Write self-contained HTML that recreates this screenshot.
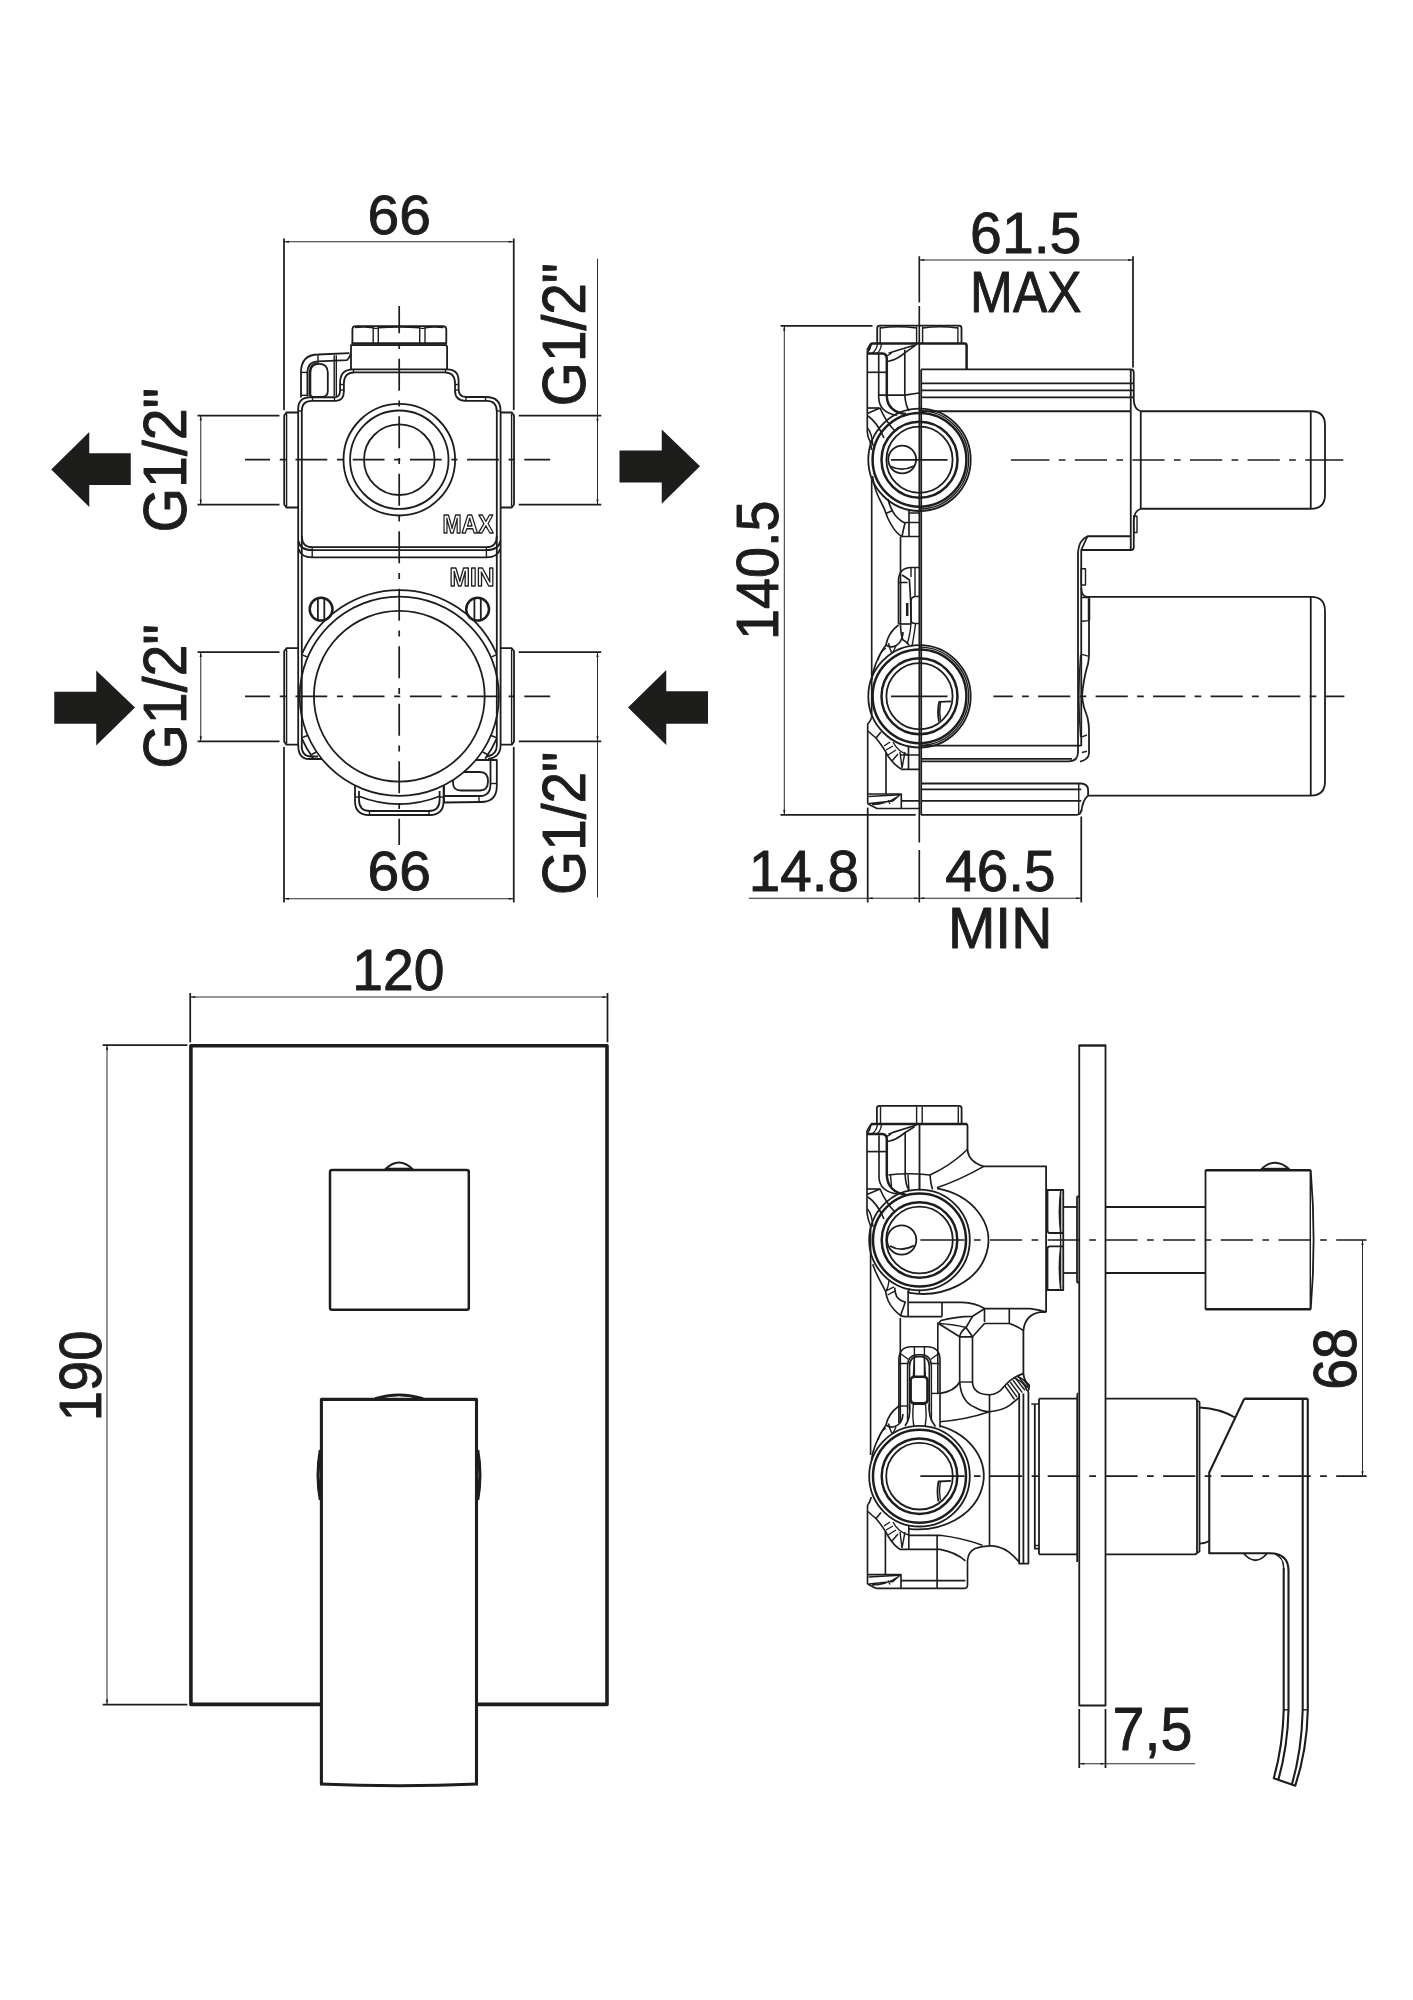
<!DOCTYPE html>
<html><head><meta charset="utf-8"><title>drawing</title>
<style>
html,body{margin:0;padding:0;background:#fff}
svg{display:block;will-change:transform}
.t{font-family:"Liberation Sans",sans-serif;font-size:100px;fill:#1d1d1b;stroke:#1d1d1b;stroke-width:1.6;stroke-linejoin:round}
.to{font-family:"Liberation Sans",sans-serif;font-size:100px;font-weight:bold;fill:none;stroke:#1d1d1b;stroke-width:5.4;stroke-linejoin:round}
path,circle,rect,ellipse{fill:none;stroke:#1d1d1b;stroke-linecap:butt;stroke-linejoin:round}
.d{stroke-width:1;stroke:#2b2b2b}
.n{stroke-width:1.4}
.m{stroke-width:1.8}
.f{stroke-width:1.65}
.k{stroke-width:2.5}
.g{stroke-width:2.1}
.h{stroke-width:3.6}
.h3{stroke-width:3.1}
.c{stroke-width:1.7}
.e{stroke-width:1.75}
.h2{stroke-width:2.4}
.a{fill:#1d1d1b;stroke:none}
.w{fill:#fff}
</style></head><body>
<svg width="1413" height="2000" viewBox="0 0 1413 2000">
<text class="t" transform="translate(367.61 234.01) scale(0.5698 0.5510)">66</text>
<path class="d" d="M284 241.75L513.75 241.75"/>
<path class="a" d="M284 241.75L289 240.65L289 242.85Z"/>
<path class="a" d="M513.75 241.75L508.75 240.65L508.75 242.85Z"/>
<path class="e" d="M284 238.5L284 410"/>
<path class="e" d="M513.75 238.5L513.75 410"/>
<text class="t" transform="translate(367.61 890.26) scale(0.5698 0.5510)">66</text>
<path class="d" d="M284 898.75L513.75 898.75"/>
<path class="a" d="M284 898.75L289 897.65L289 899.85Z"/>
<path class="a" d="M513.75 898.75L508.75 897.65L508.75 899.85Z"/>
<path class="e" d="M284 747L284 902.5"/>
<path class="e" d="M513.75 747L513.75 902.5"/>
<text class="t" transform="translate(186.42 532.4) rotate(-90) scale(0.5724 0.6026)">G1/2"</text>
<text class="t" transform="translate(186.42 768.65) rotate(-90) scale(0.5724 0.6026)">G1/2"</text>
<text class="t" transform="translate(585.17 406.13) rotate(-90) scale(0.5673 0.6026)">G1/2"</text>
<text class="t" transform="translate(585.17 894.88) rotate(-90) scale(0.5673 0.6026)">G1/2"</text>
<path class="e" d="M197.5 415.5L279.5 415.5"/>
<path class="e" d="M518.75 415.5L601.25 415.5"/>
<path class="e" d="M197.5 504.5L279.5 504.5"/>
<path class="e" d="M518.75 504.5L601.25 504.5"/>
<path class="e" d="M197.5 652L279.5 652"/>
<path class="e" d="M518.75 652L601.25 652"/>
<path class="e" d="M197.5 741.25L279.5 741.25"/>
<path class="e" d="M518.75 741.25L601.25 741.25"/>
<path class="d" d="M200.75 415.5L200.75 504.5"/>
<path class="a" d="M200.75 415.5L199.65 420.5L201.85 420.5Z"/>
<path class="a" d="M200.75 504.5L199.65 499.5L201.85 499.5Z"/>
<path class="d" d="M200.75 652L200.75 741.25"/>
<path class="a" d="M200.75 652L199.65 657L201.85 657Z"/>
<path class="a" d="M200.75 741.25L199.65 736.25L201.85 736.25Z"/>
<path class="d" d="M597.5 258.75L597.5 504.5"/>
<path class="a" d="M597.5 415.5L596.4 420.5L598.6 420.5Z"/>
<path class="a" d="M597.5 504.5L596.4 499.5L598.6 499.5Z"/>
<path class="d" d="M597.5 652L597.5 897.5"/>
<path class="a" d="M597.5 652L596.4 657L598.6 657Z"/>
<path class="a" d="M597.5 741.25L596.4 736.25L598.6 736.25Z"/>
<path class="c" d="M245 459.7H270.1M279.75 459.7H285.85M295.5 459.7H327.3M336.95 459.7H343.05M352.7 459.7H384.5M394.15 459.7H400.25M409.9 459.7H441.7M451.35 459.7H457.45M467.1 459.7H498.9M508.55 459.7H514.65M524.3 459.7H550.2"/>
<path class="c" d="M245 696.3H270.1M279.75 696.3H285.85M295.5 696.3H327.3M336.95 696.3H343.05M352.7 696.3H384.5M394.15 696.3H400.25M409.9 696.3H441.7M451.35 696.3H457.45M467.1 696.3H498.9M508.55 696.3H514.65M524.3 696.3H550.2"/>
<path class="c" d="M399.2 306V333.2M399.2 343.1V348.9M399.2 358.8V390.7M399.2 400.6V406.4M399.2 416.3V448.2M399.2 458.1V463.9M399.2 473.8V505.7M399.2 515.6V521.4M399.2 531.3V563.2M399.2 573.1V578.9M399.2 588.8V620.7M399.2 630.6V636.4M399.2 646.3V678.2M399.2 688.1V693.9M399.2 703.8V735.7M399.2 745.6V751.4M399.2 761.3V793.2M399.2 803.1V808.9M399.2 818.8V845"/>
<path class="a" d="M51.25 469.5L89.25 432V453.25H130.75V485H89.25V507Z"/>
<path class="a" d="M135 707.5L96.25 670.5V691.75H54.25V723.75H96.25V745.5Z"/>
<path class="a" d="M700 466.25L661.75 429.5V450.5H619.5V482.5H661.75V503.75Z"/>
<path class="a" d="M628 707.5L666.25 670V691.25H708V723.75H666.25V745Z"/>
<path class="m" d="M352.4 343.5V329.5Q352.4 326.1 355.8 326.1H442.9Q446.3 326.1 446.3 329.5V343.5"/>
<path class="k" d="M351.5 343.6L447 343.6"/>
<path class="n" d="M373.2 327.5L373.2 343.5"/>
<path class="n" d="M378.3 327.5L378.3 343.5"/>
<path class="n" d="M419.7 327.5L419.7 343.5"/>
<path class="n" d="M425 327.5L425 343.5"/>
<path class="n" d="M355 327.6Q364 326.4 373.2 327.8Q375.7 329 378.3 327.8Q399 326.2 419.7 327.8Q422.3 329 425 327.8Q434 326.4 443.5 327.6"/>
<path class="m" d="M351 369.4V345.2H445Q447.1 345.2 447.1 347.3V369.4"/>
<path class="m" d="M298.2 745V409Q298.2 397.4 309.8 397.4H334.2Q340.1 397.4 340.1 390.2V382.5Q340.1 369.4 353.3 369.4H447.1Q458.6 369.4 458.6 380.8V389.3Q458.6 397 466.2 397H486Q500.6 397 500.6 411V745"/>
<path class="m" d="M301.8 536V411Q301.8 400.8 312 400.8H335.9Q343.9 400.8 343.9 391V383.4Q343.9 372.4 354.5 372.4H444.6Q455 372.4 455 383.4V390.6Q455 400.8 465.4 400.8H486.6Q496.8 400.8 496.8 411.4V536"/>
<path class="m" d="M301.8 536Q301.8 547.2 312.2 547.2H486.4Q496.8 547.2 496.8 536"/>
<path class="m" d="M298.4 541Q300 550.1 312.2 550.1H486.4Q498.6 550.1 500.4 541"/>
<path class="m" d="M298.6 549Q301 557.4 312.2 557.4H486.4Q497.6 557.4 500.2 549"/>
<path class="n" d="M312.2 547.2L312.2 557.4"/>
<path class="n" d="M486.4 547.2L486.4 557.4"/>
<path class="n" d="M340.1 384.5L343.9 384.5"/>
<path class="n" d="M340.1 390L343.9 390"/>
<path class="n" d="M455 384.5L458.6 384.5"/>
<path class="n" d="M455 390L458.6 390"/>
<path class="n" d="M466 397L466 400.8"/>
<path class="n" d="M485.5 397L485.5 400.8"/>
<path class="n" d="M312.5 397.4L312.5 400.8"/>
<path class="n" d="M334.5 397.4L334.5 400.8"/>
<path class="n" d="M496.8 411L500.6 411"/>
<path class="n" d="M298.2 411L301.8 411"/>
<path class="n" d="M353.5 369.4L353.5 372.4"/>
<path class="n" d="M445.5 369.4L445.5 372.4"/>
<path class="m" d="M301.8 536L301.8 745"/>
<path class="m" d="M496.8 536L496.8 745"/>
<path class="m" d="M301 397.6V372.4Q301 354.7 318 354.5L349.4 353.2"/>
<path class="m" d="M307.4 396.5V373.2Q307.4 361.5 318 361.3L347 360.1Q349.5 358 350.6 354"/>
<path class="n" d="M309.3 396.5V374Q309.3 363.3 319 363"/>
<path class="m" d="M310.4 394V372.6Q310.4 363.9 319.1 363.9Q327.8 363.9 327.8 372.6V391Q327.8 397 322 397H314Q310.4 397 310.4 394Z"/>
<path class="n" d="M334.2 355.2L334.2 396.5"/>
<path class="n" d="M336.3 355.2L336.3 396.5"/>
<path class="n" d="M318 354.7L318 361.2"/>
<path class="n" d="M301 372.4L307.4 372.4"/>
<path class="n" d="M301 395.3L307.4 395.3"/>
<path class="n" d="M327 397.3H334"/>
<path class="m" d="M298.2 412.5H286.4L284.2 415.5V504.5L286.4 507.5H298.2"/>
<path class="n" d="M286.6 413.5L286.6 506.5"/>
<path class="m" d="M500.6 412.5H511.8L514 415.5V504.5L511.8 507.5H500.6"/>
<path class="n" d="M511.6 413.5L511.6 506.5"/>
<path class="m" d="M298.2 648.2H286.4L284.2 651.2V741.6L286.4 744.6H298.2"/>
<path class="n" d="M286.6 649.2L286.6 743.6"/>
<path class="m" d="M500.6 648.2H511.8L514 651.2V741.6L511.8 744.6H500.6"/>
<path class="n" d="M511.6 649.2L511.6 743.6"/>
<circle class="m" cx="399.3" cy="459.7" r="55.8"/>
<circle class="m" cx="399.3" cy="459.7" r="49.2"/>
<circle class="m" cx="399.3" cy="459.7" r="35.3"/>
<circle class="m" cx="399.3" cy="696.3" r="99.6"/>
<circle class="m" cx="399.3" cy="696.3" r="85.4"/>
<path class="m" d="M301.8 654.2A106.2 106.2 0 0 1 496.8 654.2"/>
<path class="m" d="M301.8 738.4A106.2 106.2 0 0 0 313.44 758.8"/>
<path class="m" d="M496.8 738.4A106.2 106.2 0 0 1 485.16 758.8"/>
<path class="m" d="M298.2 745Q298.2 759 309 759H322"/>
<path class="m" d="M301.6 745Q301.6 756.5 311 756.5H318"/>
<path class="m" d="M500.6 745Q500.6 757.5 488 759"/>
<path class="m" d="M496.9 745Q496.9 755 487 756.5"/>
<path class="n" d="M302.5 655L307 656.8"/>
<path class="n" d="M302.5 737.5L307.5 735.5"/>
<path class="n" d="M311.5 754.5L316.5 752"/>
<path class="n" d="M496 655L491.5 656.8"/>
<path class="n" d="M496 737.5L491 735.5"/>
<path class="n" d="M487.5 754.5L482.5 752"/>
<circle class="k" cx="321.1" cy="609.2" r="11.4"/>
<path class="m" d="M317.9 598.3L317.9 620.1"/>
<path class="m" d="M324.3 598.3L324.3 620.1"/>
<circle class="k" cx="477.6" cy="609.2" r="11.4"/>
<path class="m" d="M474.4 598.3L474.4 620.1"/>
<path class="m" d="M480.8 598.3L480.8 620.1"/>
<path class="m" d="M355 785.5V801Q355 815 369 815H429.6Q443.6 815 443.6 801V785.5"/>
<path class="m" d="M359 791V800Q359 811 370 811H428.6Q439.6 811 439.6 800V791"/>
<path class="m" d="M359 796.28A107.8 107.8 0 0 0 439.6 796.28"/>
<path class="n" d="M369.5 811L369.5 815"/>
<path class="n" d="M429 811L429 815"/>
<path class="n" d="M355 797L359 797"/>
<path class="n" d="M439.6 797L443.6 797"/>
<path class="m" d="M475 760H496.8V786Q496.8 802 481 802L444 802.5V786"/>
<path class="m" d="M490.5 760V784Q490.5 796 480 796H445"/>
<path class="n" d="M479 796L479 802"/>
<path class="n" d="M490.5 783.5L496.8 783.5"/>
<path class="m" d="M464 772H480Q488 772 488 781.2Q488 790.5 480 790.5H461Q453 790.5 453 782.5V780"/>
<text class="to" transform="translate(442.53 533.31) scale(0.2292 0.2567)">MAX</text>
<text class="to" transform="translate(449.47 585.5) scale(0.2457 0.2594)">MIN</text>
<text class="t" transform="translate(970.1 252.73) scale(0.5719 0.5682)">61.5</text>
<text class="t" transform="translate(970.05 312.05) scale(0.5142 0.5666)">MAX</text>
<path class="d" d="M919.3 260L1133 260"/>
<path class="a" d="M919.3 260L924.3 258.9L924.3 261.1Z"/>
<path class="a" d="M1133 260L1128 258.9L1128 261.1Z"/>
<path class="e" d="M1133 256.25L1133 367.5"/>
<text class="t" transform="translate(777.94 639.98) rotate(-90) scale(0.5571 0.5888)">140.5</text>
<path class="d" d="M784.3 325.75L784.3 814.8"/>
<path class="a" d="M784.3 325.75L783.2 330.75L785.4 330.75Z"/>
<path class="a" d="M784.3 814.8L783.2 809.8L785.4 809.8Z"/>
<path class="e" d="M780.5 325.75L872.5 325.75"/>
<path class="e" d="M780.5 814.8L915.7 814.8"/>
<text class="t" transform="translate(748.71 891.48) scale(0.5661 0.5682)">14.8</text>
<text class="t" transform="translate(945.29 891.48) scale(0.5670 0.5682)">46.5</text>
<text class="t" transform="translate(947.9 948.3) scale(0.5694 0.5666)">MIN</text>
<path class="d" d="M748.75 898.25L1081.25 898.25"/>
<path class="a" d="M867.7 898.25L872.7 897.15L872.7 899.35Z"/>
<path class="a" d="M919.3 898.25L914.3 897.15L914.3 899.35Z"/>
<path class="a" d="M919.3 898.25L924.3 897.15L924.3 899.35Z"/>
<path class="a" d="M1081.25 898.25L1076.25 897.15L1076.25 899.35Z"/>
<path class="e" d="M867.7 807.6L867.7 902.5"/>
<path class="e" d="M1081.25 816.5L1081.25 902.5"/>
<path class="f" d="M919.3 256.25L919.3 302.5"/>
<path class="f" d="M919.3 306L919.3 842.5"/>
<path class="f" d="M919.3 850L919.3 902.5"/>
<path class="c" d="M1010.9 460H1049.4M1058.75 460H1065.45M1074.8 460H1107M1116.35 460H1123.05M1132.4 460H1164.6M1173.95 460H1180.65M1190 460H1222.2M1231.55 460H1238.25M1247.6 460H1279.8M1289.15 460H1295.85M1305.2 460H1343.3"/>
<path class="c" d="M993.4 696.3H1012.8M1022.1 696.3H1028.8M1038.1 696.3H1070.3M1079.6 696.3H1086.3M1095.6 696.3H1127.8M1137.1 696.3H1143.8M1153.1 696.3H1185.3M1194.6 696.3H1201.3M1210.6 696.3H1242.8M1252.1 696.3H1258.8M1268.1 696.3H1300.3M1309.6 696.3H1316.3M1325.6 696.3H1344.4"/>
<path class="m" d="M877.2 343.3V328.2Q877.2 325.7 879.7 325.7H959Q961.5 325.7 961.5 328.2V343.3"/>
<path class="n" d="M880.2 326.5L880.2 343.3"/>
<path class="n" d="M916.6 326.5L916.6 343.3"/>
<path class="n" d="M922.6 326.5L922.6 343.3"/>
<path class="n" d="M957.9 326.5L957.9 343.3"/>
<path class="n" d="M880.2 328Q898 325.6 916.6 328M922.6 328Q940 325.6 957.9 328"/>
<path class="k" d="M867.3 350.4L870.6 344.4Q871.2 343.5 873 343.5H964.5Q966.6 343.5 966.6 345.6V369"/>
<path class="m" d="M921.2 369.4V815"/>
<path class="m" d="M921 369.4H1130.75Q1133.75 369.4 1133.75 372.4V399Q1133.75 409 1140.75 411.25"/>
<path class="m" d="M1130.75 369.4L1130.75 550"/>
<path class="m" d="M921 383.3L1133.75 383.3"/>
<path class="m" d="M921 390.4L1133.75 390.4"/>
<path class="m" d="M921 397.4L1133.75 397.4"/>
<path class="m" d="M921 411.25L1130.75 411.25"/>
<path class="m" d="M1140.75 411.25H1311Q1325 411.25 1325 425.25V494.75Q1325 508.75 1311 508.75H1140.75Q1134 511 1133.75 520V547.5Q1133.75 550 1131 550H1081.25"/>
<path class="m" d="M1140.75 411.25L1140.75 508.75"/>
<path class="m" d="M1310.75 411.25L1310.75 508.75"/>
<rect class="n" x="1133.75" y="516.25" width="3.25" height="16.25"/>
<path class="m" d="M1130.75 536.25H1087.5Q1079 540 1078 552V752Q1078 761.3 1069 761.3H921"/>
<path class="m" d="M1087.5 536.25L1081.25 550V746"/>
<path class="m" d="M921 745.6L1081.25 745.6"/>
<path class="m" d="M921 758.8L1072 758.8"/>
<rect class="n" x="1081.25" y="568.75" width="4.25" height="16.25"/>
<path class="m" d="M1081.25 588Q1081.5 596.9 1087.5 596.9H1311Q1325 596.9 1325 610.9V781.6Q1325 795.6 1311 795.6H1088.1"/>
<path class="m" d="M1310.75 596.9L1310.75 795.6"/>
<path class="m" d="M1089 620.6V655Q1088.5 664 1086.9 667.5Q1083.5 680 1081.9 696.3Q1083 707 1087.5 717.5Q1089 724 1089 730V753.75Q1088.5 759.5 1080 761.6"/>
<path class="n" d="M1080.6 655Q1078.9 676 1078.9 696.3Q1078.9 716 1080.6 737"/>
<path class="n" d="M1081.9 597.5H1089.2V620.6L1081.9 621.2"/>
<path class="k" d="M1089 598.5L1089 620.3"/>
<path class="n" d="M1081.9 654.4L1088 656.2M1081.9 736.9L1086.9 735M1081.9 752.5L1086.9 751.2"/>
<path class="m" d="M921 783.5H1081.25Q1088 784 1088.1 790V795.6Q1082.5 800 1081.3 812"/>
<path class="m" d="M921 814.8H1076.5Q1081 814.8 1081.3 810"/>
<path class="m" d="M921 789.4L1081.25 789.4"/>
<path class="m" d="M921 800.8L1081.25 800.8"/>
<path class="n" d="M1078.75 784L1078.75 814"/>
<circle class="m" cx="919.5" cy="459.8" r="51.2"/>
<circle class="k" cx="919.5" cy="459.8" r="46.9"/>
<circle class="k" cx="919.5" cy="459.8" r="38"/>
<circle class="m" cx="919.5" cy="459.8" r="33.1"/>
<path class="n" d="M919.5 410.6A49.2 49.2 0 0 1 919.5 509"/>
<path class="m" d="M891 459.9L947.5 459.9"/>
<circle class="m" cx="919.5" cy="696.3" r="51.2"/>
<circle class="k" cx="919.5" cy="696.3" r="46.9"/>
<circle class="k" cx="919.5" cy="696.3" r="38"/>
<circle class="m" cx="919.5" cy="696.3" r="33.1"/>
<path class="n" d="M919.5 647.1A49.2 49.2 0 0 1 919.5 745.5"/>
<path class="m" d="M891 696.4L947.5 696.4"/>
<circle class="m" cx="902.2" cy="459.5" r="13.9"/>
<path class="m" d="M891 466.5Q902 472 914 466"/>
<path class="m" d="M951 701.3L939.2 701.8Q937 712 939 721.6"/>
<path class="n" d="M940.5 702Q939 712 940.5 720.5"/>
<path class="f" d="M867.3 350.4V432Q867.5 437 870 441L871.7 450"/>
<path class="k" d="M867.3 353.4H882.6Q886.8 353.7 886.8 358.8V396Q887.5 412 906 414"/>
<path class="f" d="M878.7 354V397.8Q879.5 413 897 415.2"/>
<path class="f" d="M867.3 372.3L886.8 372.3"/>
<path class="f" d="M879 395.1H904.8L919 393"/>
<path class="f" d="M904.8 349.8V395.1Q905.5 405 909 411"/>
<path class="f" d="M916.8 344.5L897 350.5Q892 352 888.5 353.2"/>
<path class="f" d="M915 345.6L904.8 352.8Q897 359.5 888.6 361.2Q887.5 361.4 886.8 361.4"/>
<path class="n" d="M871.2 344.4Q870.5 349.5 867.6 352.6M877.5 344Q876.5 350.5 872 353.2M881.5 344Q880.5 351 877 353.3"/>
<path class="n" d="M886.5 356Q889.5 355 891.5 353"/>
<path class="f" d="M867.3 408L879 408"/>
<path class="f" d="M867.3 413.5L880 408Q886 422 895 431"/>
<path class="f" d="M868 416Q877 422 884 438"/>
<path class="n" d="M867.5 428Q872 433 873 446"/>
<path class="f" d="M871.7 478L871.7 717.5"/>
<path class="f" d="M872.5 476Q874.5 490 880 500Q885 509 887.5 517.5Q892 527 896 531.5Q899 535 902 536.5H919"/>
<path class="f" d="M900.5 536.5V576"/>
<path class="f" d="M888 499Q890 508 895 515Q900 521 905 523Q903 531 902 536.5"/>
<path class="f" d="M909 510V536M905 522.5H919M909 513H919"/>
<path class="n" d="M886 513.5L892.5 510.5"/>
<path class="f" d="M898.5 624V580Q899 568 911 567.5H919"/>
<path class="f" d="M900.5 576V624"/>
<path class="f" d="M898.5 582.5H907.5M902 575Q906 577.5 909.5 580V582Q911 600 911 624"/>
<path class="n" d="M915 568V596M911 567.8V577"/>
<path class="f" d="M919 596.5H915Q911 597 911 601V619.5Q911 623.5 915 623.5H919"/>
<path class="k" d="M907.2 603L907.2 616"/>
<path class="f" d="M898.5 624L911 624"/>
<path class="f" d="M898.5 625Q888 633 886 645Q878 655 873 672L871.7 680"/>
<path class="f" d="M900.5 625Q901 636 903 640Q908 643 909 645"/>
<path class="n" d="M911 624Q910 636 907 644M915.5 624Q914 636 912 646"/>
<path class="f" d="M886 645Q893 650 900 642Q903 637 903 632"/>
<path class="n" d="M888.5 643Q890 650 892 653M896 646L893 652"/>
<path class="n" d="M878 660Q880 652 886 648"/>
<path class="f" d="M871.7 717.5Q870 722 867.7 724V803.8"/>
<path class="f" d="M868 731Q874 736.5 876 738L881 732M876 738Q884 748 888 756Q895 766 902 769.4H919"/>
<path class="f" d="M886 752.8V794.5"/>
<path class="f" d="M908.5 746V769.4M900 755H919"/>
<path class="n" d="M884 746L890 742M886 750L893 746M888 755L896 750M892 761L898 754M900 752L902 768M905 752L902 768"/>
<path class="n" d="M893 742Q898 752 908.5 755"/>
<path class="f" d="M867.7 794H901.3V808.5M919 808.5H877L867.7 803.8M901.3 800.8H919"/>
<path class="n" d="M868.5 796.5L900 794.8L893 801L869 803.5M872 804.5Q886 804.5 897 797M888 800L890 804"/>
<text class="t" transform="translate(352.3 990.47) scale(0.5524 0.5716)">120</text>
<path class="d" d="M190.2 997L607.5 997"/>
<path class="a" d="M190.2 997L195.2 995.9L195.2 998.1Z"/>
<path class="a" d="M607.5 997L602.5 995.9L602.5 998.1Z"/>
<path class="e" d="M190.2 993L190.2 1042.3"/>
<path class="e" d="M607.5 993L607.5 1042.3"/>
<text class="t" transform="translate(101.45 1421.14) rotate(-90) scale(0.5428 0.5854)">190</text>
<path class="d" d="M107 1045.1L107 1704.6"/>
<path class="a" d="M107 1045.1L105.9 1050.1L108.1 1050.1Z"/>
<path class="a" d="M107 1704.6L105.9 1699.6L108.1 1699.6Z"/>
<path class="e" d="M102.7 1045.1L187.4 1045.1"/>
<path class="e" d="M102.7 1704.6L187.4 1704.6"/>
<path class="h" d="M321.4 1704.4H190.9V1045.8H607V1704.4H476.6"/>
<rect class="k" x="330" y="1170" width="138.8" height="139.7" rx="2"/>
<path class="m" d="M385 1169.5Q399 1155.5 413 1169.5"/>
<path class="m" d="M386 1168.6L412 1168.6"/>
<path class="h3" d="M321.4 1784.5V1399.4H476.5V1784.5"/>
<path class="h3" d="M320 1784Q399 1787.5 478 1784"/>
<path class="k" d="M375 1398.5Q399 1391 423 1398.5"/>
<path class="n" d="M382 1397.6Q399 1393.5 416 1397.6"/>
<path class="k" d="M320 1450Q315.5 1475 320 1500"/>
<path class="m" d="M320.5 1458Q317 1475 320.5 1492"/>
<path class="k" d="M478 1450Q482.5 1475 478 1500"/>
<path class="m" d="M477.5 1458Q481 1475 477.5 1492"/>
<path class="m" d="M1079.25 1045.3V1705.5H1105.5V1045.3"/>
<path class="h2" d="M1078.6 1045.5L1106.2 1045.5"/>
<text class="t" transform="translate(1112.59 1749.66) scale(0.5737 0.6041)">7,5</text>
<path class="d" d="M1079.25 1763.75L1195 1763.75"/>
<path class="a" d="M1079.25 1763.75L1084.25 1762.65L1084.25 1764.85Z"/>
<path class="a" d="M1105.5 1763.75L1100.5 1762.65L1100.5 1764.85Z"/>
<path class="e" d="M1079.25 1709L1079.25 1768"/>
<path class="e" d="M1105.5 1709L1105.5 1768"/>
<text class="t" transform="translate(1356.42 1389.83) rotate(-90) scale(0.5550 0.6026)">68</text>
<path class="d" d="M1362.5 1240L1362.5 1476.2"/>
<path class="a" d="M1362.5 1240L1361.4 1245L1363.6 1245Z"/>
<path class="a" d="M1362.5 1476.2L1361.4 1471.2L1363.6 1471.2Z"/>
<path class="c" d="M920.4 1240H964.5M973.9 1240H980.6M990 1240H1022.2M1031.6 1240H1038.3M1047.7 1240H1079.9M1089.3 1240H1096M1105.4 1240H1137.6M1147 1240H1153.7M1163.1 1240H1195.3M1204.7 1240H1211.4M1220.8 1240H1253M1262.4 1240H1269.1M1278.5 1240H1310.7M1320.1 1240H1326.8M1336.2 1240H1366.6"/>
<path class="c" d="M920.4 1476.2H964.5M973.9 1476.2H980.6M990 1476.2H1022.2M1031.6 1476.2H1038.3M1047.7 1476.2H1079.9M1089.3 1476.2H1096M1105.4 1476.2H1137.6M1147 1476.2H1153.7M1163.1 1476.2H1195.3M1204.7 1476.2H1211.4M1220.8 1476.2H1253M1262.4 1476.2H1269.1M1278.5 1476.2H1310.7M1320.1 1476.2H1326.8M1336.2 1476.2H1366.6"/>
<path class="m" d="M1105.5 1207L1205.5 1207"/>
<path class="m" d="M1105.5 1273L1205.5 1273"/>
<path class="m" d="M1205.5 1170V1309.5"/>
<path class="k" d="M1205.5 1170.3H1310.7M1205.5 1309.3H1310.7"/>
<path class="m" d="M1310.7 1170Q1316.5 1240 1310.7 1309.5"/>
<path class="n" d="M1310.3 1170L1310.3 1309.5"/>
<path class="m" d="M1261 1169.5Q1275 1156 1289.5 1169.5"/>
<path class="m" d="M1262 1168.7L1288.5 1168.7"/>
<path class="m" d="M1063.25 1207L1077 1207"/>
<path class="m" d="M1063.25 1273L1077 1273"/>
<path class="m" d="M1079 1196.5H1077.6Q1077 1196.5 1077 1198V1281Q1077 1282.5 1077.6 1282.5H1079"/>
<path class="m" d="M1046.3 1190H1063.25V1290H1046.3"/>
<path class="n" d="M1060.6 1190L1060.6 1290"/>
<path class="m" d="M1047.5 1190V1230.5Q1047.5 1233 1050 1233H1063.25M1047.5 1290V1248.8Q1047.5 1246.3 1050 1246.3H1063.25"/>
<path class="n" d="M1060.6 1192Q1058 1212 1060.6 1232M1060.6 1247.5Q1058 1268 1060.6 1288"/>
<path class="m" d="M1039 1398.7H1077.2M1105.5 1398.7H1195.5L1197 1400.2V1553L1195.5 1554.3H1105.5M1077.2 1554.3H1039"/>
<path class="m" d="M1039 1398.7V1554.3"/>
<path class="m" d="M1078 1393Q1077.2 1394 1077.2 1396V1562"/>
<path class="m" d="M1197 1400.5L1199.5 1402V1551.5L1197 1553"/>
<path class="m" d="M1199.5 1407.5Q1220 1408.5 1235 1417.5"/>
<path class="m" d="M1199.5 1543.7Q1205 1543.5 1209.25 1541"/>
<path class="k" d="M1244.25 1398.7H1307.8"/>
<path class="g" d="M1244.25 1398.7L1209.25 1472.5V1553.3H1270Q1288.5 1553.3 1288.5 1571V1710Q1287.8 1746 1278.3 1780"/>
<path class="g" d="M1283.7 1568V1710Q1283 1745 1273.8 1778.3L1295.3 1785.7Q1307 1750 1307.8 1710V1398.7"/>
<path class="g" d="M1302.7 1398.7V1710Q1301.8 1750 1291.9 1784.6"/>
<path class="n" d="M1275 1554Q1283.5 1557 1283.7 1568"/>
<path class="m" d="M1243.75 1553.5Q1255.5 1567 1267 1553.5"/>
<path class="n" d="M1283.7 1709.8L1288.5 1709.8"/>
<path class="n" d="M1302.7 1709.8L1307.8 1709.8"/>
<path class="m" d="M1019.2 1393.4V1563.6H1028.4V1392"/>
<path class="m" d="M1023.4 1393.4L1023.4 1563.6"/>
<path class="m" d="M1034.8 1404V1548.7H1039"/>
<path class="n" d="M1031.25 1404L1039 1404"/>
<path class="n" d="M1034.8 1545.5L1039 1545.5"/>
<path class="m" d="M876.9 1123.3V1108.4Q876.9 1105.9 879.4 1105.9H959.1Q961.6 1105.9 961.6 1108.4V1123.3"/>
<path class="n" d="M880.5 1106.7L880.5 1123.3"/>
<path class="n" d="M916.6 1106.7L916.6 1123.3"/>
<path class="n" d="M922.2 1106.7L922.2 1123.3"/>
<path class="n" d="M958.3 1106.7L958.3 1123.3"/>
<path class="m" d="M867 1131L870.6 1125Q871.2 1124 873 1124H965.4Q967.5 1124 967.5 1126V1149.5Q968.5 1162 983.8 1166.4H1046.1V1312.2"/>
<path class="k" d="M871 1124L967 1124"/>
<path class="m" d="M919.5 1124L919.5 1190.5"/>
<path class="m" d="M1046.1 1312.2H1040Q1025 1315 1023.4 1330.6V1373.6Q1024 1381 1029.1 1385Q1029.5 1389 1027.7 1392"/>
<path class="m" d="M908.8 1302.3H962Q975 1302.5 985 1308.7H1030Q1040 1310 1046.1 1312.2"/>
<path class="m" d="M937 1188.4A65.7 53.3 0 0 1 908.1 1292.6"/>
<path class="m" d="M940 1425.8A65.7 53.3 0 0 1 908.8 1528.8"/>
<circle class="m" cx="919.5" cy="1240" r="50.3"/>
<circle class="k" cx="919.5" cy="1240" r="46.5"/>
<circle class="k" cx="919.5" cy="1240" r="37.8"/>
<circle class="m" cx="919.5" cy="1240" r="33.3"/>
<circle class="m" cx="919.5" cy="1476.2" r="50.3"/>
<circle class="k" cx="919.5" cy="1476.2" r="46.5"/>
<circle class="k" cx="919.5" cy="1476.2" r="37.8"/>
<circle class="m" cx="919.5" cy="1476.2" r="33.3"/>
<circle class="m" cx="901.7" cy="1240" r="14.6"/>
<path class="m" d="M890 1246Q901.5 1252.5 914 1245.5"/>
<path class="m" d="M951 1480.8L938.5 1481.5Q936.5 1492 938.5 1501.5"/>
<path class="n" d="M940.3 1481.5Q938.7 1491 940.3 1500"/>
<path class="f" d="M967.5 1149.5Q950 1166 930 1175"/>
<path class="f" d="M983.8 1166.4Q960 1180 937 1187.7"/>
<path class="f" d="M930 1175Q930.5 1183 932.5 1189.5"/>
<path class="f" d="M888.3 1175Q908 1172.5 930 1175"/>
<path class="f" d="M867 1131V1213Q868 1220 870.6 1226V1455"/>
<path class="k" d="M867 1133.9H881.9Q886.8 1134.2 886.8 1139V1175Q887.5 1192 906 1194.7"/>
<path class="f" d="M879 1135.3V1177.8Q880 1192 897.5 1194"/>
<path class="f" d="M867 1151.6L886.8 1151.6"/>
<path class="f" d="M905.2 1132.5V1175Q905.5 1184 908.8 1190.5"/>
<path class="f" d="M916.6 1125L893 1132.4Q890 1133.5 888.5 1134"/>
<path class="f" d="M914.5 1126.8L905.2 1132.5Q896 1140 889.5 1141Q888 1141.2 886.8 1141.2"/>
<path class="n" d="M871 1125Q870.3 1130 867.5 1133M877.5 1124.5Q876.5 1131 872 1133.8M881.5 1124.5Q880.5 1131.5 877 1133.8"/>
<path class="n" d="M886.5 1136.5Q889.5 1135.5 891.5 1133.3"/>
<path class="f" d="M867 1189L879.5 1189"/>
<path class="f" d="M867 1194.5L880 1189Q886 1203 895 1212"/>
<path class="f" d="M868 1197Q877 1203 884 1219"/>
<path class="n" d="M867.5 1209Q872 1214 873 1227"/>
<path class="n" d="M890.5 1175L891.5 1186M908 1174.5L909 1190.5M919.5 1175V1190"/>
<path class="f" d="M872.7 1264.2Q875 1271 878.4 1277.7L885.5 1291.1Q886.5 1297 888.3 1301Q890 1305 894 1309.5Q897 1313 901 1315.9Q903 1316.6 906 1316.6H942.1"/>
<path class="f" d="M908.1 1290.5L908.1 1316.6"/>
<path class="f" d="M894.7 1287.6Q895 1293 896.8 1296.8Q900 1301 905.3 1302.1L900.7 1315.2"/>
<path class="n" d="M885.5 1291.1L894 1286.9M887.6 1295L894.7 1291.1M889 1280.5Q888.5 1286 886.5 1290.4M919.4 1289.5V1293.3M909.8 1288.5L908.3 1292.5"/>
<path class="f" d="M942 1302.3L942 1316.5"/>
<path class="f" d="M984.5 1308.7L984.5 1322"/>
<path class="f" d="M1009.3 1308.7L1009.3 1323.5"/>
<path class="f" d="M900.3 1317.9L900.3 1423"/>
<path class="f" d="M938.5 1323.5L941 1320.5Q955 1316.5 972.5 1316.3L984.5 1308.7"/>
<path class="f" d="M937.8 1322.6V1393.4"/>
<path class="f" d="M938.5 1323.5L959.7 1336.8H972.5L984.5 1323.5H1009.3Q1017 1326 1023.4 1330.6"/>
<path class="f" d="M938.5 1323.5Q955 1324.5 966 1327.5L972.5 1316.3M966 1327.5Q960.5 1331.5 959.7 1336.8M972.5 1336.8V1382M959.7 1336.8V1382"/>
<path class="f" d="M966 1327.5L972.5 1336.8"/>
<path class="n" d="M959.7 1382L972.5 1382"/>
<path class="f" d="M972.5 1382Q973 1394.5 989.5 1394.8Q998 1394.5 1003.6 1387Q1012 1377 1023.4 1373.6"/>
<path class="f" d="M959.7 1382Q961 1402 975.3 1407.5Q982 1411.5 989.5 1411.8Q1003 1410.5 1010.7 1404.7L1019.5 1397"/>
<path class="f" d="M940 1393.4Q955 1391 959.7 1382"/>
<path class="f" d="M940 1421.7Q965 1420 989.5 1411.8"/>
<path class="f" d="M989.5 1394.8L989.5 1545.2"/>
<path class="n" d="M1005 1386L1014.5 1399.5"/>
<path class="n" d="M1007.6 1384L1017.1 1397.2"/>
<path class="n" d="M1010.2 1382L1019.7 1394.9"/>
<path class="n" d="M1012.8 1380L1022.3 1392.6"/>
<path class="n" d="M1015.4 1378L1024.9 1390.3"/>
<path class="n" d="M1018 1376L1027.5 1388"/>
<path class="n" d="M1014 1378Q1024 1381 1027 1391"/>
<path class="n" d="M1017 1376.5Q1026 1379 1028.5 1388"/>
<path class="f" d="M898.9 1423V1359.4Q899.3 1347 911 1346.7H927Q939.7 1347 940 1359.4V1427.4"/>
<path class="f" d="M909.5 1410V1366Q909.7 1356.8 918 1356.6H921Q929.1 1356.8 929.3 1366V1410"/>
<path class="n" d="M907.5 1421V1366Q907.7 1355 918 1354.8H921Q931.2 1355 931.4 1366V1421"/>
<rect class="m" x="910.2" y="1376.4" width="17.7" height="27.6" rx="4"/>
<rect class="n" x="911.2" y="1377.4" width="15.7" height="25.2" rx="3.4"/>
<path class="n" d="M914.4 1346.7V1376.4M924.4 1346.7V1376.4M898.9 1363.5H907.5M931.4 1363.5H940M899.6 1353L908.5 1359.5M939.4 1353L930.5 1359.5"/>
<path class="n" d="M914.4 1356.6L913.4 1376.4M924.4 1356.6L925.4 1376.4"/>
<path class="n" d="M913.4 1404Q912 1416 914 1427M925.4 1404Q927 1416 925 1427"/>
<path class="f" d="M909.5 1404Q911 1418 905 1426M929.3 1404Q928 1418 935.5 1426.5"/>
<path class="n" d="M898.9 1406L907.5 1406"/>
<path class="n" d="M931.4 1393.4L940 1393.4"/>
<path class="f" d="M898.9 1406Q888 1414 886 1425Q878 1436 873 1452L871.5 1460"/>
<path class="f" d="M886 1425Q893 1430 900 1423Q903 1419 903 1414"/>
<path class="n" d="M888.5 1423.5Q890 1430 892 1433.5M896 1427L893 1433"/>
<path class="n" d="M878 1440Q880 1432 886 1428"/>
<path class="f" d="M871.3 1497Q870 1502 867.5 1505.6V1584.1"/>
<path class="f" d="M868 1511.5Q874 1517 876 1518.5L881 1512.5M876 1518.5Q884 1528 888 1536Q894 1546 900.3 1549.4H940Q955 1552 965.4 1560.8"/>
<path class="f" d="M908.8 1525.4V1549.4"/>
<path class="f" d="M908.8 1535.3H940Q962 1538 982.4 1545.2"/>
<path class="f" d="M937.1 1535.3L937.1 1588.4"/>
<path class="f" d="M885.4 1531L885.4 1575"/>
<path class="n" d="M884 1526L890 1522M886 1530L893 1526M888 1535L896 1530M892 1541L898 1534M900 1532L902 1548M905 1532L902 1548"/>
<path class="n" d="M893 1522Q898 1532 908.8 1535"/>
<path class="f" d="M876.2 1588.4H964Q967.5 1588.4 967.5 1585V1560.8Q968 1552 975 1548.5Q983 1545.5 992.3 1545.9Q1002 1547 1009.3 1552.3Q1015 1557 1019.2 1562.2"/>
<path class="f" d="M901 1580.6L965.4 1580.6"/>
<path class="f" d="M867.5 1574.6H901V1588.4M876.2 1588.4L867.5 1584.1"/>
<path class="n" d="M868.5 1577L900 1575.3L893 1581.5L869 1584M872 1585Q886 1585 897 1577.5M888 1580.5L890 1584.5"/>
</svg>
</body></html>
